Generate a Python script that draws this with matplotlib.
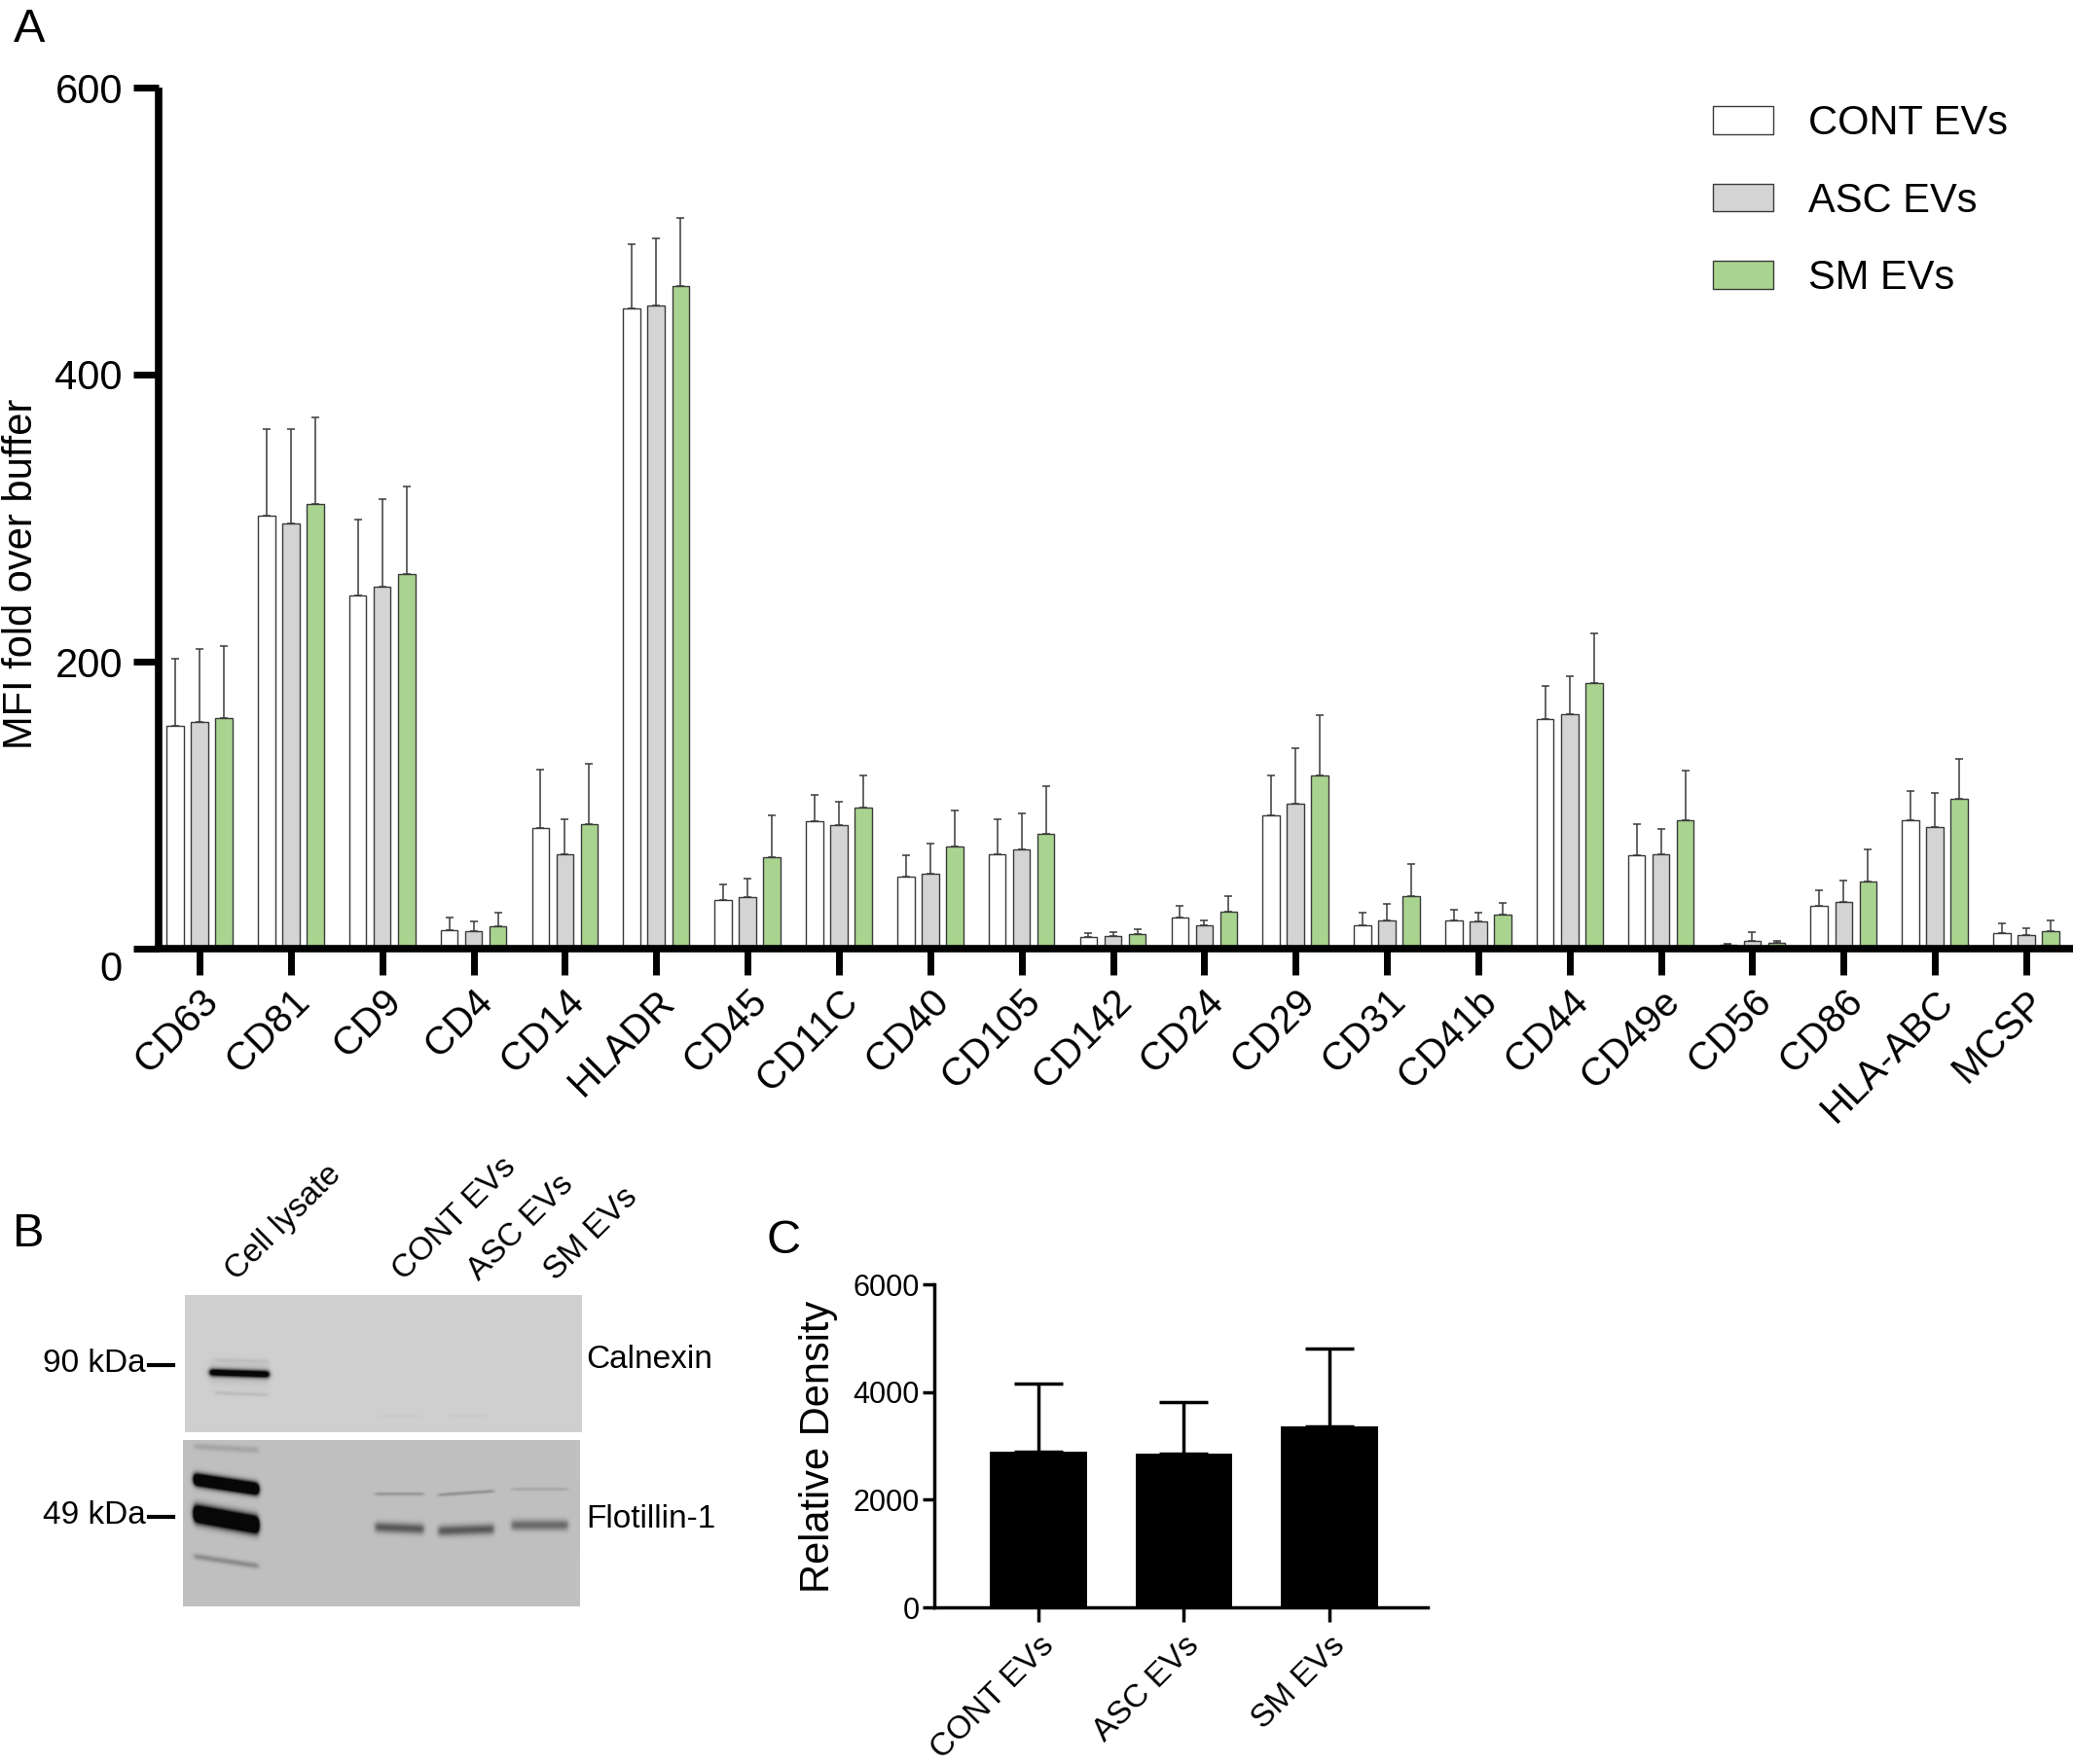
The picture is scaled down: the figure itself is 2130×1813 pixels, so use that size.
import numpy as np
import matplotlib
matplotlib.use("Agg")
import matplotlib.pyplot as plt
from matplotlib.transforms import ScaledTranslation

plt.rcParams['font.family'] = ['Liberation Sans', 'DejaVu Sans']

# ---------------- data ----------------
markers = ['CD63', 'CD81', 'CD9', 'CD4', 'CD14', 'HLADR', 'CD45', 'CD11C', 'CD40',
           'CD105', 'CD142', 'CD24', 'CD29', 'CD31', 'CD41b', 'CD44', 'CD49e',
           'CD56', 'CD86', 'HLA-ABC', 'MCSP']
groups = ['CONT EVs', 'ASC EVs', 'SM EVs']

cont_mean = [155, 302, 246, 13, 84, 446, 34, 89, 50, 66, 8, 22, 93, 16, 20, 160, 65, 2.6, 30, 89.5, 11]
cont_sd = [47, 60, 53, 9, 41, 45, 11, 18, 15, 24, 3, 8, 28, 9, 7, 23, 22, 1, 11, 20.5, 6.5]
asc_mean = [158, 296, 252, 12.5, 66, 448, 36, 86, 52, 69, 8.7, 16.4, 101, 20, 19, 163.5, 66, 5.6, 32.4, 85, 9.5]
asc_sd = [51, 66, 61, 6.5, 24, 47, 12.5, 16.5, 21, 25, 3, 3.5, 39, 11, 6, 26.5, 17.5, 6, 15, 23.5, 5]
sm_mean = [160.5, 310, 261, 15.6, 87, 461.6, 63.6, 98, 71, 80, 10.4, 25.5, 120.7, 36.3, 23.4, 185, 89.5, 3.9, 46.7, 104.3, 12.1]
sm_sd = [50.5, 60, 61, 9.5, 41.5, 47.5, 29, 23, 25, 33, 3.4, 11.3, 42.3, 22.7, 8.6, 35, 34.5, 1.3, 22.5, 27.7, 7.4]

density_groups = ['CONT EVs', 'ASC EVs', 'SM EVs']
density_mean = [2894, 2864, 3365]
density_sd = [1255, 953, 1441]

blot_lanes = ['Cell lysate', 'CONT EVs', 'ASC EVs', 'SM EVs']
blot_markers = ['90 kDa', '49 kDa']
blot_proteins = ['Calnexin', 'Flotillin-1']

# blot bands: (x0, x1, y_center, sigma, darkness, tilt) in image pixels
calnexin_bands = [(25, 86, 80, 2.6, 1.0, 2), (25, 86, 80, 7.0, 0.10, 2),
                  (30, 85, 101, 1.5, 0.07, 2), (30, 85, 67, 1.5, 0.05, 1),
                  (200, 240, 124, 1.5, 0.02, 0), (270, 310, 124, 1.5, 0.02, 0)]
flotillin_bands = [(11, 77, 45, 4.2, 1.7, 10), (11, 77, 81, 5.8, 1.9, 12),
                   (11, 77, 124, 2.2, 0.20, 10), (11, 77, 8, 2.5, 0.10, 4),
                   (197, 247, 90, 3.8, 0.40, 2), (262, 319, 92, 3.8, 0.40, -2),
                   (337, 395, 87, 3.8, 0.34, 0),
                   (197, 247, 55, 1.3, 0.16, 0), (262, 319, 54, 1.3, 0.18, -4),
                   (337, 395, 50, 1.3, 0.09, 0)]

W, H = 2130, 1813
fig = plt.figure(figsize=(W / 100, H / 100), dpi=100)


def fx(px):
    return px / W


def fy(py):
    return 1 - py / H


# ---------------- panel A ----------------
axA = fig.add_axes([fx(163), fy(975), fx(2128) - fx(163), fy(90) - fy(975)])
x = np.arange(len(markers))
bw = 0.187
off = 0.267
colors = ['white', '#d4d4d4', '#a9d48f']
means = [cont_mean, asc_mean, sm_mean]
sds = [cont_sd, asc_sd, sm_sd]
handles = []
for i in range(3):
    xi = x + (i - 1) * off
    b = axA.bar(xi, means[i], width=bw, color=colors[i], edgecolor='#3a3a3a',
                linewidth=1.0, zorder=2, label=groups[i])
    handles.append(b)
    axA.errorbar(xi, means[i], yerr=[np.zeros(len(markers)), sds[i]], fmt='none',
                 ecolor='#3a3a3a', elinewidth=1.1, capsize=2.9, capthick=1.1, zorder=1.5)

axA.set_xlim(-0.4476, 20.49)
axA.set_ylim(0, 600)
for s in ['top', 'right']:
    axA.spines[s].set_visible(False)
for s in ['left', 'bottom']:
    axA.spines[s].set_linewidth(5.5)
    axA.spines[s].set_zorder(4)
axA.spines['left'].set_capstyle('butt')
axA.set_yticks([0, 200, 400, 600])
axA.set_yticklabels(['0', '200', '400', '600'])
axA.tick_params(axis='y', length=18.7, width=5, labelsize=30, pad=8)
axA.tick_params(axis='x', length=19.4, width=5, labelsize=29, pad=6)
axA.set_xticks(x)
axA.set_xticklabels(markers, rotation=45, ha='right', rotation_mode='anchor')
lab0 = axA.get_yticklabels()[0]
lab0.set_transform(lab0.get_transform() + ScaledTranslation(0, -0.18, fig.dpi_scale_trans))

fig.text(fx(22), fy(590), 'MFI fold over buffer', rotation=90, ha='center', va='center', fontsize=30)

leg = axA.legend(handles, groups, loc='upper left', bbox_to_anchor=(fx(1760), fy(107)),
                 bbox_transform=fig.transFigure, frameon=False, fontsize=30,
                 borderpad=0, borderaxespad=0, handlelength=1.49, handleheight=0.67,
                 handletextpad=0.86, labelspacing=0.95)

fig.text(fx(14), fy(43), 'A', fontsize=35, va='baseline')

# ---------------- panel B (blot images) ----------------


def make_blot(h, w, bg, bands):
    yy, xx = np.mgrid[0:h, 0:w].astype(float)
    img = np.full((h, w), bg)
    for (x0, x1, yc, sig, amp, tilt) in bands:
        edge = 2.5
        hp = 0.5 * (np.tanh((xx - x0) / edge) - np.tanh((xx - x1) / edge))
        ycx = yc + tilt * ((xx - (x0 + x1) / 2) / max(x1 - x0, 1))
        vp = np.exp(-0.5 * ((yy - ycx) / sig) ** 2)
        img = img - amp * hp * vp
    return np.clip(img, 0.03, 1)


axB1 = fig.add_axes([fx(190), fy(1472), fx(598) - fx(190), fy(1331) - fy(1472)])
axB1.imshow(make_blot(141, 408, 0.81, calnexin_bands), cmap='gray', vmin=0, vmax=1,
            aspect='auto', interpolation='bilinear')
axB1.axis('off')
axB2 = fig.add_axes([fx(188), fy(1651), fx(596) - fx(188), fy(1480) - fy(1651)])
axB2.imshow(make_blot(171, 408, 0.75, flotillin_bands), cmap='gray', vmin=0, vmax=1,
            aspect='auto', interpolation='bilinear')
axB2.axis('off')

fig.text(fx(13), fy(1281), 'B', fontsize=35, va='baseline')
lane_x = [243, 415, 492, 571]
for lx, name in zip(lane_x, blot_lanes):
    fig.text(fx(lx), fy(1317), name, rotation=45, ha='left', va='baseline',
             rotation_mode='anchor', fontsize=24)
for yy_, name in zip([1401, 1557], blot_markers):
    fig.text(fx(150), fy(yy_), name, ha='right', va='center', fontsize=24)
    fig.add_artist(plt.Line2D([fx(153), fx(178)], [fy(yy_ + 2), fy(yy_ + 2)],
                              color='black', linewidth=3, transform=fig.transFigure))
for yy_, name in zip([1398, 1561], blot_proteins):
    fig.text(fx(602), fy(yy_), name, ha='left', va='center', fontsize=24)

# ---------------- panel C ----------------
axC = fig.add_axes([fx(960), fy(1652), fx(1467) - fx(960), fy(1320) - fy(1652)])
xc = np.arange(len(density_groups))
axC.bar(xc, density_mean, width=0.667, color='black', zorder=2)
axC.errorbar(xc, density_mean, yerr=[np.zeros(3), density_sd], fmt='none', ecolor='black',
             elinewidth=2.5, capsize=18, capthick=2.5, zorder=1.5)
axC.set_xlim(-0.716, 2.676)
axC.set_ylim(0, 6000)
for s in ['top', 'right']:
    axC.spines[s].set_visible(False)
for s in ['left', 'bottom']:
    axC.spines[s].set_linewidth(2.5)
    axC.spines[s].set_zorder(4)
axC.set_yticks([0, 2000, 4000, 6000])
axC.tick_params(axis='y', length=9, width=2.5, labelsize=22, pad=2)
axC.tick_params(axis='x', length=11, width=2.5, labelsize=24, pad=6)
axC.set_xticks(xc)
axC.set_xticklabels(density_groups, rotation=45, ha='right', rotation_mode='anchor')
fig.text(fx(841), fy(1487), 'Relative Density', rotation=90, ha='center', va='center', fontsize=30)
fig.text(fx(788), fy(1288), 'C', fontsize=35, va='baseline')

fig.savefig('out.png', dpi=100)
